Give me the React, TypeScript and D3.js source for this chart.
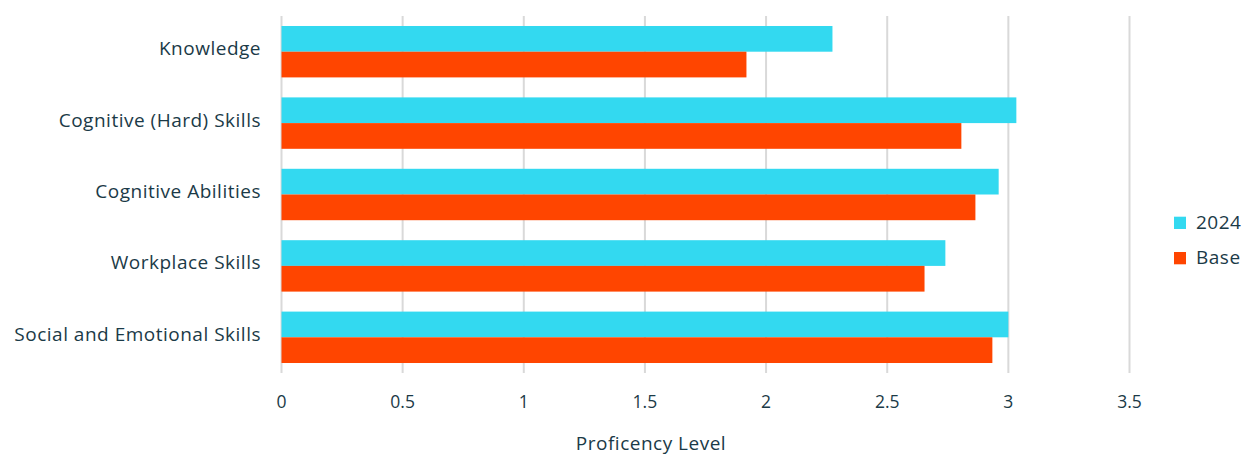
import React from "react";
import * as d3 from "d3";

const categories = [
  "Knowledge",
  "Cognitive (Hard) Skills",
  "Cognitive Abilities",
  "Workplace Skills",
  "Social and Emotional Skills",
];
const values2024 = [2.274, 3.033, 2.96, 2.74, 3.0];
const valuesBase = [1.919, 2.806, 2.864, 2.654, 2.934];
const seriesNames = ["2024", "Base"];
const seriesColors = ["#33D9F0", "#FF4500"];
const xTicks = [0, 0.5, 1, 1.5, 2, 2.5, 3, 3.5];

const W = 1244;
const H = 455;
const FONT = "'Open Sans', sans-serif";
const TEXT = "#1B3A47";

export default function App() {
  const x = d3.scaleLinear().domain([0, 3.5]).range([281.5, 1129.5]);
  const y = d3
    .scaleBand<string>()
    .domain(categories)
    .range([16, 373])
    .paddingInner(0.28)
    .paddingOuter(0.14);
  const bw = y.bandwidth() / 2;
  const series = [values2024, valuesBase];

  return (
    <svg
      width={W}
      height={H}
      style={{ position: "absolute", left: 0, top: 0, background: "#fff" }}
      fontFamily={FONT}
    >
      {xTicks.map((t) => (
        <line
          key={t}
          x1={x(t)}
          x2={x(t)}
          y1={16}
          y2={373}
          stroke="#D9D9D9"
          strokeWidth={2}
        />
      ))}
      {categories.map((c, i) => (
        <g key={c}>
          {series.map((s, j) => (
            <rect
              key={j}
              x={x(0)}
              y={(y(c) as number) + j * bw}
              width={x(s[i]) - x(0)}
              height={bw}
              fill={seriesColors[j]}
            />
          ))}
          <text
            x={261}
            y={(y(c) as number) + y.bandwidth() / 2 + 3.5}
            textAnchor="end"
            fontSize={19}
            letterSpacing={0.5}
            fill={TEXT}
          >
            {c}
          </text>
        </g>
      ))}
      {xTicks.map((t) => (
        <text
          key={t}
          x={x(t)}
          y={408}
          textAnchor="middle"
          fontSize={17.5}
          fill={TEXT}
        >
          {String(t)}
        </text>
      ))}
      <text
        x={651}
        y={450}
        textAnchor="middle"
        fontSize={19}
        letterSpacing={0.5}
        fill={TEXT}
      >
        Proficency Level
      </text>
      {seriesNames.map((n, j) => (
        <g key={n}>
          <rect x={1174} y={216.7 + j * 35.3} width={12} height={12.3} fill={seriesColors[j]} />
          <text x={1196} y={228.5 + j * 35} fontSize={19} letterSpacing={0.5} fill={TEXT}>
            {n}
          </text>
        </g>
      ))}
    </svg>
  );
}
